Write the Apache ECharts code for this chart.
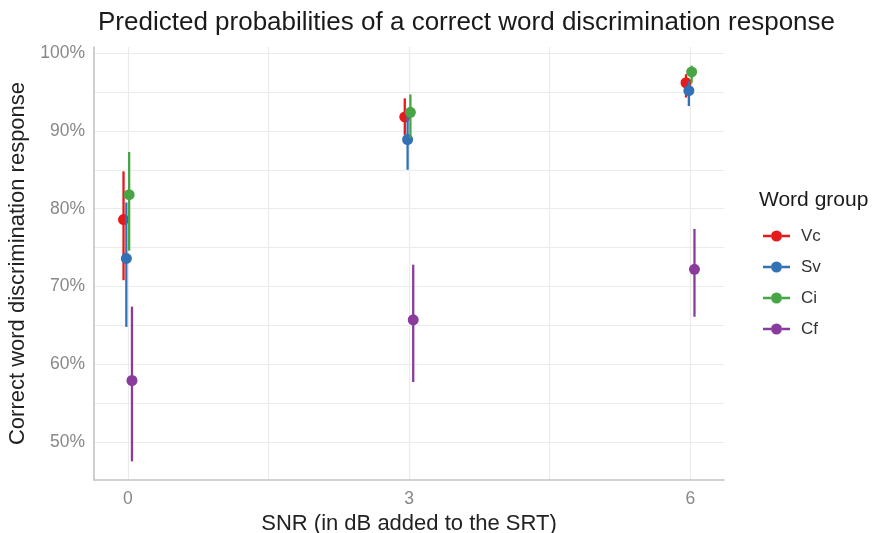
<!DOCTYPE html>
<html>
<head>
<meta charset="utf-8">
<script src="https://cdn.jsdelivr.net/npm/echarts@6/dist/echarts.min.js"></script>
<style>
  html, body { margin: 0; padding: 0; background: #fff; }
  #main { width: 872px; height: 533px; }
</style>
</head>
<body>
<div id="main"></div>
<script>
// SNR levels (dB above SRT)
const snrLevels = [0, 3, 6];
const groups = ["Vc", "Sv", "Ci", "Cf"];

// predicted probability (%) and confidence limits, per word group
const vcEst = [78.6, 91.8, 96.2];
const vcLow = [70.8, 89.5, 94.3];
const vcHigh = [84.8, 94.2, 97.3];

const svEst = [73.6, 88.9, 95.2];
const svLow = [64.8, 85.0, 93.2];
const svHigh = [80.8, 92.0, 96.4];

const ciEst = [81.8, 92.4, 97.6];
const ciLow = [74.6, 89.1, 96.2];
const ciHigh = [87.3, 94.7, 98.4];

const cfEst = [57.9, 65.7, 72.2];
const cfLow = [47.5, 57.7, 66.1];
const cfHigh = [67.4, 72.8, 77.4];

const yTicks = [50, 55, 60, 65, 70, 75, 80, 85, 90, 95, 100];
const yLabels = [50, 60, 70, 80, 90, 100];
const xTicks = [0, 1.5, 3, 4.5, 6];
const xLabels = [0, 3, 6];

const colors = ["#e41a1c", "#3371b5", "#47a546", "#8a3c9c"];
const dodge = [-0.045, -0.015, 0.015, 0.045];
const font = "'Liberation Sans', Arial, sans-serif";

const sets = [
  [vcEst, vcLow, vcHigh],
  [svEst, svLow, svHigh],
  [ciEst, ciLow, ciHigh],
  [cfEst, cfLow, cfHigh],
];

const legendIcon =
  "path://M0,4.8h8v2.4h-8z M19,4.8h8v2.4h-8z M13.5,0.5a5.5,5.5 0 1,1 0,11a5.5,5.5 0 1,1 0,-11z";

function renderItem(params, api) {
  const x = api.value(0);
  const pt = api.coord([x, api.value(1)]);
  const lo = api.coord([x, api.value(2)]);
  const hi = api.coord([x, api.value(3)]);
  const color = api.visual("color");
  return {
    type: "group",
    children: [
      {
        type: "line",
        shape: { x1: hi[0], y1: hi[1], x2: lo[0], y2: lo[1] },
        style: { stroke: color, lineWidth: 2.3 },
      },
      {
        type: "circle",
        shape: { cx: pt[0], cy: pt[1], r: 5.5 },
        style: { fill: color },
      },
    ],
  };
}

const series = groups.map((name, g) => ({
  name: name,
  type: "custom",
  renderItem: renderItem,
  color: colors[g],
  encode: { x: 0, y: [1, 2, 3] },
  data: snrLevels.map((s, i) => [s + dodge[g], sets[g][0][i], sets[g][1][i], sets[g][2][i]]),
}));

const myChart = echarts.init(document.getElementById("main"));
myChart.setOption({
  animation: false,
  color: colors,
  title: [
    {
      text: "Predicted probabilities of a correct word discrimination response",
      left: 93,
      top: 5,
      textStyle: { fontFamily: font, fontSize: 26, fontWeight: "normal", color: "#1a1a1a" },
    },
    {
      text: "Word group",
      left: 754,
      top: 185,
      textStyle: { fontFamily: font, fontSize: 21, fontWeight: "normal", color: "#1a1a1a" },
    },
  ],
  legend: {
    orient: "vertical",
    left: 758,
    top: 221,
    itemWidth: 27,
    itemHeight: 12,
    itemGap: 11,
    data: groups.map((n) => ({ name: n, icon: legendIcon })),
    textStyle: { fontFamily: font, fontSize: 17, color: "#333", lineHeight: 20, padding: [0, 0, 0, 6] },
  },
  grid: { left: 94, right: 148, top: 47, bottom: 53, outerBoundsMode: "none", containLabel: false },
  xAxis: {
    type: "value",
    min: -0.36,
    max: 6.36,
    name: "SNR (in dB added to the SRT)",
    nameLocation: "middle",
    nameGap: 31,
    nameTextStyle: { fontFamily: font, fontSize: 22, color: "#222" },
    axisLine: { show: true, onZero: false, lineStyle: { color: "#c4c4c4", width: 1.6 } },
    axisTick: { show: false, customValues: xTicks },
    axisLabel: {
      customValues: xLabels,
      margin: 10,
      fontFamily: font,
      fontSize: 17.5,
      color: "#888",
    },
    splitLine: { show: true, lineStyle: { color: "#ebebeb", width: 1.2 } },
  },
  yAxis: {
    type: "value",
    min: 45.1,
    max: 100.8,
    name: "Correct word discrimination response",
    nameLocation: "middle",
    nameGap: 61,
    nameTextStyle: { fontFamily: font, fontSize: 22, color: "#222" },
    axisLine: { show: true, onZero: false, lineStyle: { color: "#c4c4c4", width: 1.6 } },
    axisTick: { show: false, customValues: yTicks },
    axisLabel: {
      customValues: yLabels,
      margin: 9,
      fontFamily: font,
      fontSize: 17.5,
      color: "#888",
      formatter: (v) => v + "%",
    },
    splitLine: { show: true, lineStyle: { color: "#ebebeb", width: 1.2 } },
  },
  series: series,
});
</script>
</body>
</html>
